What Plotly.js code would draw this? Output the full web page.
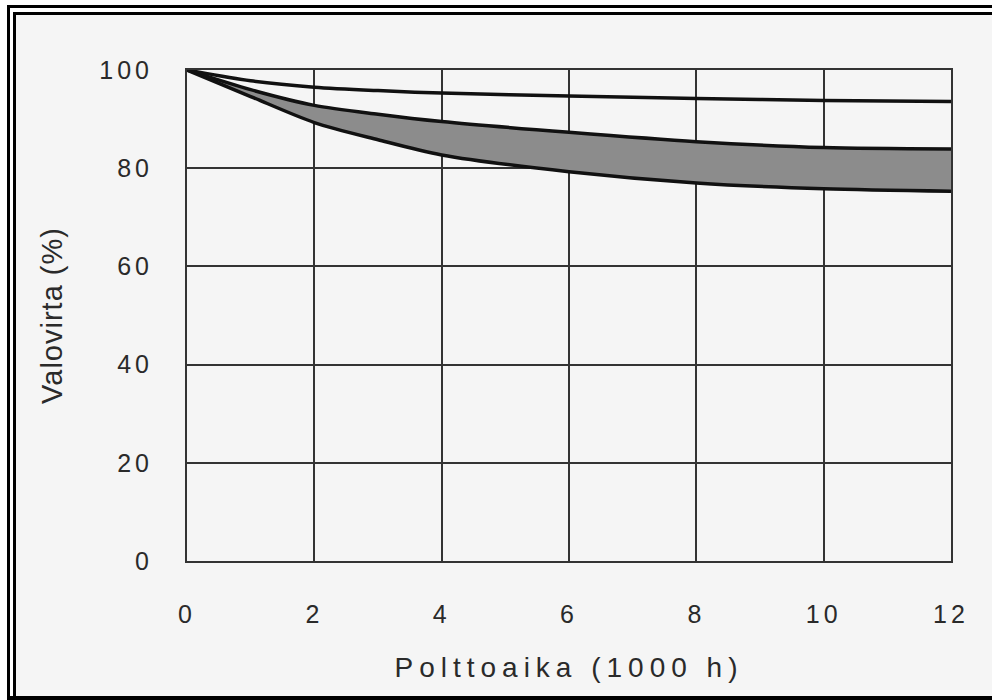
<!DOCTYPE html>
<html>
<head>
<meta charset="utf-8">
<script src="https://cdn.plot.ly/plotly-3.0.1.min.js"></script>
<style>
  html, body { margin: 0; padding: 0; background: #ffffff; }
  #wrap { position: relative; width: 992px; height: 700px; overflow: hidden; background: #ffffff; }
  #paper { position: absolute; left: 16px; top: 15px; right: 0; bottom: 0; background: #f5f5f5; }
  #chart { position: absolute; left: 0; top: 0; width: 992px; height: 700px; }
  .frame { position: absolute; background: #000; pointer-events: none; }
  .xtick text { letter-spacing: 4px; }
  .ytick text { letter-spacing: 4px; }
  .g-xtitle text { letter-spacing: 6px; }
  .g-ytitle text { letter-spacing: 1px; }
</style>
</head>
<body>
<div id="wrap">
  <div id="paper"></div>
  <div id="chart"></div>
  <!-- double frame -->
  <div class="frame" style="left:7px; top:5px; width:3px; height:695px;"></div>
  <div class="frame" style="left:7px; top:5px; width:985px; height:3px;"></div>
  <div class="frame" style="left:13px; top:12px; width:3px; height:688px;"></div>
  <div class="frame" style="left:13px; top:12px; width:979px; height:3px;"></div>
  <div class="frame" style="left:7px; top:696px; width:985px; height:4px;"></div>
</div>
<script>
// Burning time (1000 h)
const hours      = [0, 1, 2, 3, 4, 6, 8, 10, 12];
// Luminous flux (%) - upper single curve
const topCurve   = [100, 97.8, 96.5, 95.8, 95.3, 94.7, 94.2, 93.8, 93.6];
// Shaded band: upper and lower boundaries
const bandUpper  = [100, 96.0, 92.8, 91.0, 89.5, 87.3, 85.4, 84.2, 83.9];
const bandLower  = [100, 94.6, 89.3, 85.8, 82.7, 79.3, 77.0, 75.8, 75.3];

const xTicks = [0, 2, 4, 6, 8, 10, 12];
const yTicks = [0, 20, 40, 60, 80, 100];

const ink = '#2a2a2a';
const gridInk = '#333333';
const fontFam = '"Liberation Sans", Arial, Helvetica, sans-serif';

const traces = [
  {
    x: hours, y: bandLower, type: 'scatter', mode: 'lines',
    line: { color: '#111111', width: 3.5, shape: 'spline', smoothing: 0.8 },
    hoverinfo: 'skip', showlegend: false
  },
  {
    x: hours, y: bandUpper, type: 'scatter', mode: 'lines',
    fill: 'tonexty', fillcolor: '#8c8c8c',
    line: { color: '#111111', width: 3.5, shape: 'spline', smoothing: 0.8 },
    hoverinfo: 'skip', showlegend: false
  },
  {
    x: hours, y: topCurve, type: 'scatter', mode: 'lines',
    line: { color: '#111111', width: 3.5, shape: 'spline', smoothing: 0.8 },
    hoverinfo: 'skip', showlegend: false
  }
];

const layout = {
  width: 992, height: 700,
  margin: { l: 187, r: 41, t: 70, b: 139 },
  paper_bgcolor: 'rgba(0,0,0,0)',
  plot_bgcolor: 'rgba(0,0,0,0)',
  showlegend: false,
  font: { family: fontFam, color: ink, size: 25 },
  xaxis: {
    range: [0, 12],
    tickvals: xTicks,
    ticktext: xTicks.map(String),
    ticks: '',
    ticklabelstandoff: 30,
    tickfont: { family: fontFam, size: 25, color: ink },
    showgrid: true, gridcolor: gridInk, gridwidth: 2,
    showline: true, mirror: true, linecolor: gridInk, linewidth: 2,
    zeroline: false, fixedrange: true,
    title: { text: 'Polttoaika (1000 h)', font: { family: fontFam, size: 28, color: ink }, standoff: 30 }
  },
  yaxis: {
    range: [0, 100],
    tickvals: yTicks,
    ticktext: yTicks.map(String),
    ticks: '',
    ticklabelstandoff: 27,
    tickfont: { family: fontFam, size: 25, color: ink },
    showgrid: true, gridcolor: gridInk, gridwidth: 2,
    showline: true, mirror: true, linecolor: gridInk, linewidth: 2,
    zeroline: false, fixedrange: true,
    title: { text: 'Valovirta (%)', font: { family: fontFam, size: 29, color: ink }, standoff: 28 }
  }
};

Plotly.newPlot('chart', traces, layout, { staticPlot: true, displayModeBar: false });
</script>
</body>
</html>
